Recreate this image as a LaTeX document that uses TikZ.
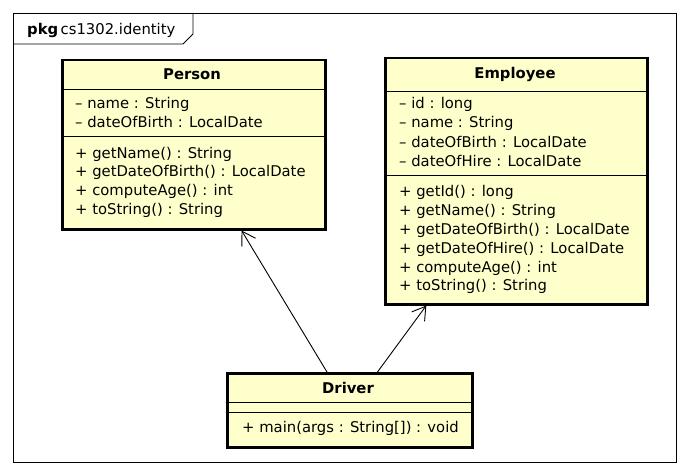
\documentclass[tikz,border=0pt]{standalone}
\usepackage{fontspec}
\setmainfont{DejaVu Sans}
\usetikzlibrary{arrows.meta,calc}
\definecolor{umlfill}{RGB}{255,255,204}
\begin{document}
\begin{tikzpicture}[x=1pt,y=-1pt,
  cls/.style={draw,line width=2.5pt,fill=umlfill,inner sep=0pt,anchor=north west},
  sep/.style={line width=0.9pt},
  txt/.style={anchor=base west,inner sep=0pt,font=\fontsize{14.8}{17}\selectfont},
  ttl/.style={anchor=base,inner sep=0pt,font=\bfseries\fontsize{14.8}{17}\selectfont},
  dep/.style={line width=0.9pt,-{Straight Barb[length=13pt,width=16pt]}}]
\fill[white] (0,0) rectangle (688,476);
\path[use as bounding box] (0,0) rectangle (688,476);
% package frame
\draw[line width=0.9pt] (13,13) rectangle (676,462);
\draw[line width=0.9pt] (13,44) -- (183,44) -- (193,34) -- (193,13);
\node[anchor=base west,inner sep=0pt,font=\fontsize{14.8}{17}\selectfont] (pkg) at (27,35) {\textbf{pkg}\,cs1302.identity};
% Person
\node[cls,minimum width=263pt,minimum height=169pt] (person) at (61,59) {};
\draw[sep] ($(person.north west)+(0,30)$) -- ($(person.north east)+(0,30)$);
\draw[sep] ($(person.north west)+(0,77)$) -- ($(person.north east)+(0,77)$);
\node[ttl] (ptitle) at (192,80) {Person};
\node[txt] (p1) at (75,109) {– name : String};
\node[txt] (p2) at (75,128) {– dateOfBirth : LocalDate};
\node[txt] (p3) at (75,158) {+ getName() : String};
\node[txt] (p4) at (75,176) {+ getDateOfBirth() : LocalDate};
\node[txt] (p5) at (75,195) {+ computeAge() : int};
\node[txt] (p6) at (75,214) {+ toString() : String};
% Employee
\node[cls,minimum width=262pt,minimum height=246pt] (emp) at (384,57) {};
\draw[sep] ($(emp.north west)+(0,34)$) -- ($(emp.north east)+(0,34)$);
\draw[sep] ($(emp.north west)+(0,118)$) -- ($(emp.north east)+(0,118)$);
\node[ttl] (etitle) at (515,79) {Employee};
\node[txt] (e1) at (399,109) {– id : long};
\node[txt] (e2) at (399,128) {– name : String};
\node[txt] (e3) at (399,147) {– dateOfBirth : LocalDate};
\node[txt] (e4) at (399,166) {– dateOfHire : LocalDate};
\node[txt] (e5) at (399,196) {+ getId() : long};
\node[txt] (e6) at (399,215) {+ getName() : String};
\node[txt] (e7) at (399,234) {+ getDateOfBirth() : LocalDate};
\node[txt] (e8) at (399,253) {+ getDateOfHire() : LocalDate};
\node[txt] (e9) at (399,272) {+ computeAge() : int};
\node[txt] (e10) at (399,290) {+ toString() : String};
% Driver
\node[cls,minimum width=245pt,minimum height=74pt] (drv) at (226,372) {};
\draw[sep] ($(drv.north west)+(0,30)$) -- ($(drv.north east)+(0,30)$);
\draw[sep] ($(drv.north west)+(0,40)$) -- ($(drv.north east)+(0,40)$);
\node[ttl] (dtitle) at (348,393) {Driver};
\node[txt] (d1) at (242,432) {+ main(args : String[]) : void};
% dependencies
\draw[dep] ($(drv.north west)!0.408!(drv.north east)$) -- ($(person.south west)!0.68!(person.south east)$);
\draw[dep] ($(drv.north west)!0.612!(drv.north east)$) -- ($(emp.south west)!0.16!(emp.south east)$);
\end{tikzpicture}
\end{document}
